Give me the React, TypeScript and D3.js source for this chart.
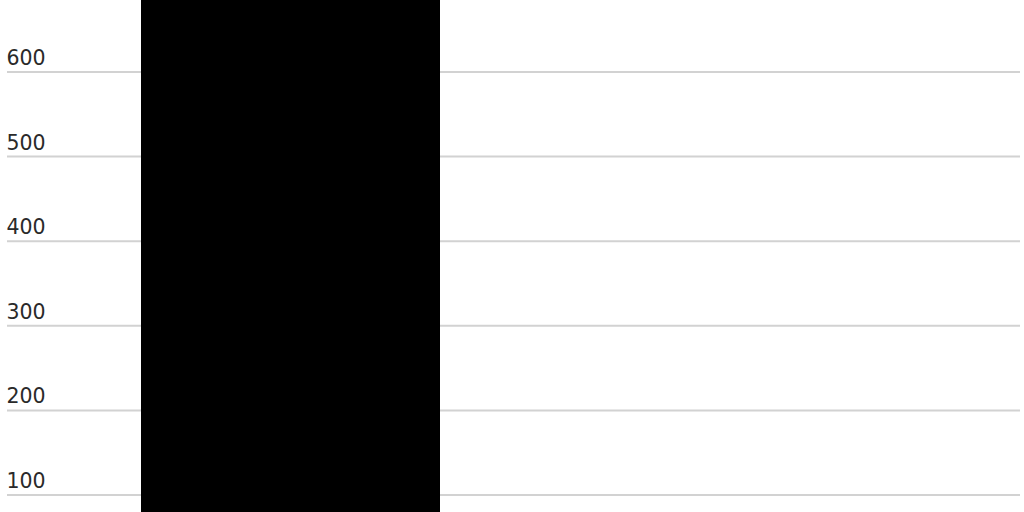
import React from "react";
import * as d3 from "d3";

const categories = ["A"];
const values = [780];
const tickValues = [100, 200, 300, 400, 500, 600];

const W = 1024;
const H = 512;

export default function App() {
  const y = d3.scaleLinear().domain([0, 600]).range([579.6, 72]);
  const x = d3.scaleBand<string>().domain(categories).range([141, 440]).padding(0);
  return (
    <svg
      width={W}
      height={H}
      style={{ position: "absolute", left: 0, top: 0, background: "#fff" }}
    >
      {tickValues.map((t) => (
        <g key={t}>
          <line x1={7} x2={1020} y1={y(t)} y2={y(t)} stroke="#d2d2d2" strokeWidth={2} />
          <text
            x={6.5}
            y={y(t) - 7}
            fontFamily="'DejaVu Sans', sans-serif"
            fontSize={20.5}
            fill="#2a2a2a"
          >
            {d3.format("d")(t)}
          </text>
        </g>
      ))}
      {categories.map((c, i) => (
        <rect
          key={c}
          x={x(c)}
          width={x.bandwidth()}
          y={y(values[i])}
          height={y(0) - y(values[i])}
          fill="#000"
        />
      ))}
    </svg>
  );
}
